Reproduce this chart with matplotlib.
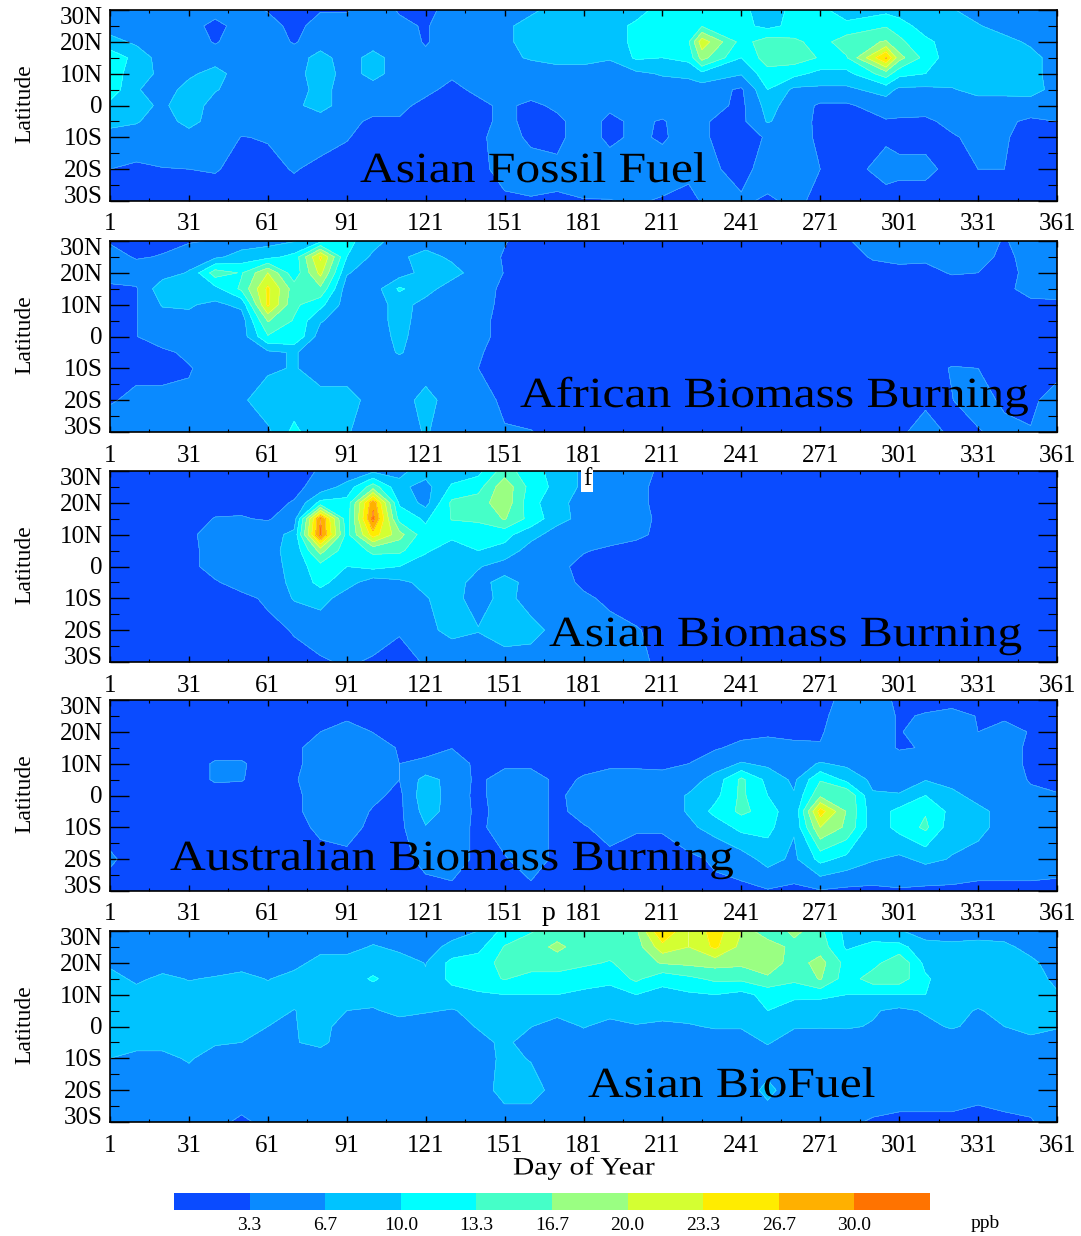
#!/usr/bin/env python3
"""Five day-of-year / latitude contour panels of CO by source region."""
import numpy as np
import matplotlib
matplotlib.use('Agg')
import matplotlib.pyplot as plt
import matplotlib.patheffects as pe
from matplotlib.colors import ListedColormap, BoundaryNorm
from matplotlib.transforms import Affine2D

W, H = 1081, 1236
plt.rcParams['font.family'] = ['Liberation Serif', 'DejaVu Serif']

LATS = [30, 25, 20, 15, 10, 5, 0, -5, -10, -20, -30]
DAYS = [1, 11, 21, 31, 41, 51, 61, 71, 81, 91, 101, 111, 121, 131, 141, 151, 161, 171, 181,
        191, 201, 211, 221, 231, 241, 251, 261, 271, 281, 291, 301, 311, 321, 331, 341, 351, 361]
# the fossil fuel peaks sit on day 226 and 296
FOSSIL_DAYS = [1, 11, 21, 31, 41, 51, 61, 71, 81, 91, 101, 111, 121, 131, 141, 151, 161, 171, 181,
               191, 201, 211, 221, 226, 241, 251, 261, 271, 281, 296, 301, 311, 321, 331, 341, 351, 361]

LEVELS = [0, 3.3, 6.7, 10.0, 13.3, 16.7, 20.0, 23.3, 26.7, 30.0, 33.3]
COLORS = ['#0a4bff', '#0a8aff', '#00c3ff', '#00ffff', '#45ffc8',
          '#9aff82', '#d4ff32', '#ffec00', '#ffb000', '#ff7300']

asian_fossil = [
    [5,5,5,5,5,5,3,2,3,3, 5,3,2,5,4,5,6,8,8,8, 8,12,12,12,11,8,11,11,8,9, 8,7,7,5,5,5,5],
    [5,5,5,5,2,5,5,2,5,5, 5,4,3,5,5,6,8,8,8,8, 11,12,12,13,11,9,11,12,11,13, 12,8,7,7,5,5,5],
    [8,6,5,5,3,5,5,3,5,5, 5,5,3,5,5,6,8,8,8,8, 11,12,13,22,12,15,14,12,15,17, 14,11,8,8,8,6,5],
    [12,9,5,5,5,5,5,5,8,5, 8,5,4,5,5,6,7,8,8,7, 10.5,10,11,18,10,15,15,13,13,27, 18,12,8,8,8,8,5],
    [12,8,6,6,8,5,5,5,9,5, 8,5,5,3.8,5,5,5,5,5,5, 6,7,7.5,9,7,12,11,9,9,15, 11,10,8,8,9,8,5],
    [12,7,5,8,7,5,5,5,8,5, 5,5,4,2.5,4,5,5,5,5,5, 5,5,5,5,2.8,10,6,6,6,8, 6,6,6.5,7.5,7.5,8,5.5],
    [9,8,6,9,5,5,5,6,8,5, 5,4,2.5,2,2.5,4,2.5,4,5,4, 5,5,5,5,2.5,8,5,2.8,2.8,5, 5,4.5,5,5.5,5.5,5,5],
    [8,7,5,8,5,5,5,5,5,4.5, 2.5,3,2,2,2.5,4,2.5,2.5,5,2.5, 4,3,5,3.5,2.5,7,5,2.5,2,3, 2.8,2.8,4,4.5,3.8,2.8,3.3],
    [5,5,5,5,5,3.2,3.5,4.5,4.5,3.5, 2,2,2,2,2.5,5,2.5,2.5,5,2.5, 4,2.8,5,3.5,2.5,3.5,4.5,2.8,2,2.8, 2.5,2.5,3,4,3.5,2.5,2.5],
    [3.3,2.8,3.2,3.3,3.5,2.5,2.5,3.5,2.5,2, 2,2,2,2,2,5,5,4,4.5,5, 5,5,4,4.5,2,5,6,3.3,2,4.5, 4,4,2.5,3.3,3.3,2.3,2],
    [2,2,2,2,2,2,2,2,2,2, 2,2,2,2,2,2.5,3,3,3.2,3.2, 3.6,3,2.5,3.5,3.8,2.8,4,2.5,2,2, 2,2,2,2,2,2,2],
]
african_biomass = [
    [3,2.5,2.5,3,3.5,5,5.5,6.5,9,11, 8,5,5,5,5,3.5,2,2,2,2, 2,2,2,2,2,2,2,2,3,4.5, 4,5,5,5,3,5,5],
    [4.5,3,3.5,5,6,8,9,11,24,10, 6,6,8,6,5,3,2,2,2,2, 2,2,2,2,2,2,2,2,2.5,3.5, 4,3.8,4,4.5,2.5,4.5,5],
    [5,5,5,7,15,13,20,11,21,7, 5,5,8,8,5,3.2,2,2,2,2, 2,2,2,2,2,2,2,2,2,2.5, 2.5,2.5,3.5,3.3,2.5,4,5],
    [2.5,3,9,7,9,14,24,15,16,5, 5,10.5,8,5,5,2.5,2,2,2,2, 2,2,2,2,2,2,2,2,2,2, 2,2,2,2,2.5,4.5,5],
    [2.5,3.1,7,7,6,7.5,24,14,11,5, 5,8,5.5,5,4.5,2.5,2,2,2,2, 2,2,2,2,2,2,2,2,2,2, 2,2,2,2,2,2.5,2.5],
    [2.5,3.2,5,6,5,5,17,13,7,5, 5,8,5,5,4,2.5,2,2,2,2, 2,2,2,2,2,2,2,2,2,2, 2,2,2,2,2,2,2],
    [2.5,3.2,5.5,5,5,5,13,13,5,5, 5,7.5,5,5,4,2.5,2,2,2,2, 2,2,2,2,2,2,2,2,2,2, 2,2,2,2,2,2,2],
    [2.5,2.5,2.5,4.1,5,5,6,7,5,5, 5,7,5,5,3.5,2.5,2,2,2,2, 2,2,2,2,2,2,2,2,2,2, 2,2,2,2,2,2,2],
    [2.5,2.5,2.5,3,5,5,6,7,5,5, 5,5,5,5,3.3,2.5,2,2,2,2, 2,2,2,2,2,2,2,2,2,2, 2,2,3.5,3.3,2,2,2],
    [3,4,4,4,5,6,9,8,8,8, 5.5,5,8,5,5,2.5,2,2,2,2, 2,2,2,2,2,2,2,2,2,2, 2.5,2.5,3.2,5,2.5,2.5,5],
    [5,5,5,5,5,5,6,11,7,7, 5,5,7,5,5,3.6,3.4,2.5,2,2, 2,2,2,2,2,2,2,2,2,2, 2.5,5,2.5,3,4.5,3.5,4.5],
]
asian_biomass = [
    [2.5,2.5,2.5,2.5,2.5,2.5,2.5,2.5,3.5,4, 6,6,8,8,9,15,11,9,6,5, 5,2.5,2,2,2,2,2,2,2,2, 2,2,2,2,2,2,2],
    [2.5,2.5,2.5,2.5,2.5,2.5,2.5,2.5,4.5,8, 15,7.5,5.5,10.5,12,19,12,9,6,5, 4,2.5,2,2,2,2,2,2,2,2, 2,2,2,2,2,2,2],
    [2.5,2.5,2.5,2.5,2.5,2.5,2.5,3.5,11,11, 29,9.5,5.5,14,15,19,11,8,5,5, 4,2.5,2,2,2,2,2,2,2,2, 2,2,2,2,2,2,2],
    [2.5,2.5,2.5,2.5,3.4,3.5,3,5,30,11, 31,12,9.5,13.5,14,17,12,8,5.5,5, 4.5,2.5,2,2,2,2,2,2,2,2, 2,2,2,2,2,2,2],
    [2.5,2.5,2.5,2.5,5,5,5.5,7.5,31,12, 25,18,11,11,11,11,8,5,5,4.5, 4,2.5,2,2,2,2,2,2,2,2, 2,2,2,2,2,2,2],
    [2.5,2.5,2.5,2.5,4.5,5,6,7.5,18,11, 14,14,10.5,8,10,9,5,5,3.5,2.8, 2,2,2,2,2,2,2,2,2,2, 2,2,2,2,2,2,2],
    [2.5,2.5,2.5,2.5,4.5,5,5,8,12,10, 11,10,8,7,7,5,5,4,2.5,2, 2,2,2,2,2,2,2,2,2,2, 2,2,2,2,2,2,2],
    [2.5,2.5,2.5,2.5,3,4.5,5,7.5,11,8, 5,6,7.5,8,5.5,8,5.5,5,2.5,2, 2,2,2,2,2,2,2,2,2,2, 2,2,2,2,2,2,2],
    [2.5,2.5,2.5,2.5,2.5,2.5,3.8,7,8,5, 5,5,6.5,8,5,8,5,5,4,2.5, 2,2,2,2,2,2,2,2,2,2, 2,2,2,2,2,2,2],
    [2.5,2.5,2.5,2.5,2.5,2.5,2.5,3.5,4.5,4.5, 4.5,3.5,5.5,8,6.9,8,8,5.5,5,4.5, 3.5,2.5,2,2,2,2,2,2,2,2, 2,2,2,2,2,2,2],
    [2.5,2.5,2.5,2.5,2.5,2.5,2.5,2.5,3,3.6, 3,2.5,3.5,3.3,4,5.5,5,5,5,5, 4.2,2.5,2,2,2,2,2,2,2,2, 2,2,2,2,2,2,2],
]
australian_biomass = [
    [2.5,2.5,2.5,2.5,2.5,2.5,2.5,2.5,2.5,2.5, 2.5,2.5,2.5,2.5,2.5,2.5,2.5,2.5,2.5,2.5, 2.5,2.5,2.5,2.5,2.5,2.5,2.5,2.5,4,4.5, 2.8,2.5,2.5,2.5,2.5,2.5,2.5],
    [2.5,2.5,2.5,2.5,2.5,2.5,2.5,2.5,2.5,2.5, 2.5,2.5,2.5,2.5,2.5,2.5,2.5,2.5,2.5,2.5, 2.5,2.5,2.5,2.5,2.5,2.5,2.5,2.5,5,5, 3,3.5,4,3.2,2.5,2.5,2.5],
    [2.5,2.5,2.5,2.5,2.5,2.5,2.5,2.5,3.3,5, 3.2,2.5,2.5,2.5,2.5,2.5,2.5,2.5,2.5,2.5, 2.5,2.5,2.5,2.5,2.5,2.5,2.5,3,5,5, 3,5,5,3.3,5,3,2.5],
    [2.5,2.5,2.5,2.5,2.5,2.5,2.5,2.5,5,5, 5,3,3,3.2,2.5,2.5,2.5,2.5,2.5,2.5, 2.5,2.5,2.5,3,4,5,4,3.5,5,5, 3,3.5,5,5,5,2.5,2.5],
    [2.5,2.5,2.5,2.5,3.5,3.5,2.5,2.5,5,5, 5,3.3,3.5,5,2.5,2.5,2.5,2.5,2.5,2.5, 2.5,2.5,3.3,5,7,6,5,7,6,5, 5,5,5,5,5,2.5,2.5],
    [2.5,2.5,2.5,2.5,3.5,3.4,2.5,3,5,5, 5,3.3,8,5.5,2.5,5,5,2.5,3.6,5, 5,4.5,5,8,14,9,6,13,9,6, 5,6.5,5,5,5,3,2.5],
    [2.5,2.5,2.5,2.5,2.5,2.5,2.5,2.5,5,5, 4,2.5,9,5,2.5,5,5,2.5,5,5, 5,5,7,9,14,10,7,16,16.5,7, 7,10,8,5,5,4,3.5],
    [2.5,2.5,2.5,2.5,2.5,2.5,2.5,2.5,5,5, 3,2.5,8,5.5,2.5,4.5,5,2.5,4.5,5, 5,5,7,11,14,12,7,25,16.5,8, 11,13,9,8,5,5,4.5],
    [2.5,2.5,2.5,2.5,2.5,2.5,2.5,2.5,3.8,4.5, 2.5,2.5,6.5,5,2.5,5,5,2.5,3,4.5, 3.5,3.5,6,8,11,11,7,20,16,8, 11,14,8,8,5,5,5],
    [3.6,2.5,2.5,2.5,2.5,2.5,2.5,2.5,2.5,2.5, 2.5,2.5,4,5,2.5,3,5,2.5,2.5,2.5, 2.5,2.5,2.5,3.8,5,8,6,11,9,7, 6,7.5,6.5,5,5,5,4.5],
    [2.5,2.5,2.5,2.5,2.5,2.5,2.5,2.5,2.5,2.5, 2.5,2.5,2.5,2.5,2.5,2.5,2.5,2.5,2.5,2.5, 2.5,2.5,2.5,2.5,2.5,3,2.5,3,2.5,2.5, 3,2.5,2.5,2.5,2.5,2.5,2.5],
]
asian_biofuel = [
    [5,5,5,5,5,5,5,5,5,5, 5,5,5,5.5,6.7,11,13,15,15,15, 16,27,20,25,20,13,18,14,9,8, 7,5,5,5,5,5,5],
    [5,5,5,5,5,5,5,5,5.5,5.5, 7,6,5.5,7.5,9,13.5,15,17.5,15,15, 15,22,20,24,19,20,15,15,9.5,11, 11,8,7.5,8,7.5,5.5,5],
    [6,5,5,5,5,5,5,5.5,8,8, 8,8,6.6,11,11.5,14.5,15,15,14,13, 15,17,17.5,18,17.5,19,15,18,12,12, 16,9,8,8,8,7.5,5],
    [8,6,7.5,6.5,7,8,6.5,8,10,8, 10.5,8,7,11,12,13.5,12,12,11,11, 14,11,12.5,14,14,16,14,17,11.5,15, 15,10.5,8,8,8,8,6],
    [8,8,6.7,8,8,8,8,8,9,8, 8,8,8,8.5,9.5,10,10,10,9.5,8.5, 10,9,9.5,10,9,11,11,11,10,10, 10,10,8,8,8,8.5,7],
    [8,8,8,8,8,8,8,6.6,8,6.7, 6.4,7.5,7,6.5,7.5,8,8,8,8,8, 8,8,8,8,8,10,8,7.5,7.5,7, 6,7,7.5,6.5,7.5,8,8],
    [8,8,8,8,7.5,7.5,6.7,6.5,8,5, 5,5.5,5,5,7,7.5,6.8,5,6.9,5.5, 6.5,6,6.4,7,7,8,7,6.9,7,6.5, 5.5,6,7,6,6.7,7.5,7],
    [7,7.5,7.5,7.5,7,6.7,5,6.5,7.5,5, 5,5,5,5,5.5,7.5,5,5,5,5, 5,5,5,5,5,7,5,5,5,5, 5,5,5,5,5,6,5],
    [6.7,6,6,7,5.5,5,5,5,5,5, 5,5,5,5,5,7.5,6.5,5,5,5, 5,5,5,5,5,5,5,5,5,5, 5,5,5,5,5,5,5],
    [5,5,5,5,5,5,5,5,5,5, 5,5,5,5,5,8,8,5.5,5,5, 5,5,5,5,5,7.5,5,5,5,5, 5,5,5,4,5,5,5],
    [5,5,5,5,4,2.8,4,5,5,5, 5,5,5,5,5,5,5,5,5,5, 5,5,5,5,5,5,5,5,3.8,3, 2.5,2.5,2.5,2.5,2.5,3,5],
]

panels = [
    (asian_fossil, FOSSIL_DAYS, 'Asian Fossil Fuel', 10, 360, 182),
    (african_biomass, DAYS, 'African Biomass Burning', 241, 520, 407),
    (asian_biomass, DAYS, 'Asian Biomass Burning', 471, 549, 646),
    (australian_biomass, DAYS, 'Australian Biomass Burning', 700, 170, 870),
    (asian_biofuel, DAYS, 'Asian BioFuel', 931, 588, 1097),
]

LAT_LABELS = ['30N', '20N', '10N', '0', '10S', '20S', '30S']
LAT_LABEL_POS = [27.4, 19.4, 9.4, -0.6, -10.6, -20.6, -28.6]
X_TICKS = list(range(1, 362, 30))
AX_LEFT, AX_RIGHT, AX_H = 110, 1057, 191


class StretchX(pe.AbstractPathEffect):
    # the source figure has its big labels pulled wider than the font
    def __init__(self, sx, x0):
        super().__init__()
        self.sx, self.x0 = sx, x0

    def draw_path(self, renderer, gc, tpath, affine, rgbFace=None):
        wide = Affine2D().translate(-self.x0, 0).scale(self.sx, 1).translate(self.x0, 0)
        renderer.draw_path(gc, tpath, affine + wide, rgbFace)


cmap = ListedColormap(COLORS)
norm = BoundaryNorm(LEVELS, cmap.N)

fig = plt.figure(figsize=(W / 100, H / 100), dpi=100)
for grid, days, title, top, tx, ty in panels:
    ax = fig.add_axes([AX_LEFT / W, 1 - (top + AX_H) / H, (AX_RIGHT - AX_LEFT) / W, AX_H / H])
    cf = ax.contourf(days, LATS, np.array(grid), levels=LEVELS, cmap=cmap, norm=norm)
    # the pale seams between colour bands
    ax.contour(days, LATS, np.array(grid), levels=LEVELS[1:-1], colors='white',
               linewidths=0.4, alpha=0.35)
    ax.set_xlim(1, 361)
    ax.set_ylim(-30, 30)
    ax.set_xticks(X_TICKS)
    ax.set_xticks(list(range(16, 361, 30)), minor=True)
    ax.set_yticks(list(range(-30, 31, 10)))
    ax.set_yticks(list(range(-25, 30, 10)), minor=True)
    ax.set_yticklabels([])
    ax.tick_params(axis='x', which='major', direction='in', top=True, length=4, width=1,
                   labelsize=18, pad=9)
    ax.tick_params(axis='x', which='minor', direction='in', top=True, length=2.5, width=0.8)
    ax.tick_params(axis='y', which='major', direction='in', right=True, length=13.5, width=1)
    ax.tick_params(axis='y', which='minor', direction='in', right=True, length=6.5, width=0.8)
    for side in ax.spines.values():
        side.set_linewidth(1.2)
    for lab, pos in zip(LAT_LABELS, LAT_LABEL_POS):
        ax.text(-0.0075, pos, lab, transform=ax.get_yaxis_transform(), ha='right', va='center',
                fontsize=18)
    ax.text(-0.09, 0.5, 'Latitude', transform=ax.get_yaxis_transform(), rotation=90,
            ha='center', va='center', fontsize=17)
    fig.text(tx / W, 1 - ty / H, title, ha='left', va='baseline', fontsize=31,
             path_effects=[StretchX(1.15, tx)])

# stray letters left in the source figure
fig.text(587 / W, 1 - 479 / H, 'f', ha='center', va='center', fontsize=18,
         bbox=dict(facecolor='white', edgecolor='none', pad=1))
fig.text(549 / W, 1 - 913 / H, 'p', ha='center', va='center', fontsize=20)

fig.text(584 / W, 1 - 1168 / H, 'Day of Year', ha='center', va='center', fontsize=18,
         path_effects=[StretchX(1.18, 584)])

cax = fig.add_axes([174 / W, 1 - 1210 / H, 756 / W, 17 / H])
cb = fig.colorbar(cf, cax=cax, orientation='horizontal', ticks=LEVELS[1:-1], spacing='uniform',
                  format='%.1f')
cb.minorticks_off()
cb.outline.set_visible(False)
cb.ax.tick_params(length=0, labelsize=14, pad=5)
fig.text(985 / W, 1 - 1224 / H, 'ppb', ha='center', va='center', fontsize=14)

plt.savefig('out.png', dpi=100)
plt.close()
